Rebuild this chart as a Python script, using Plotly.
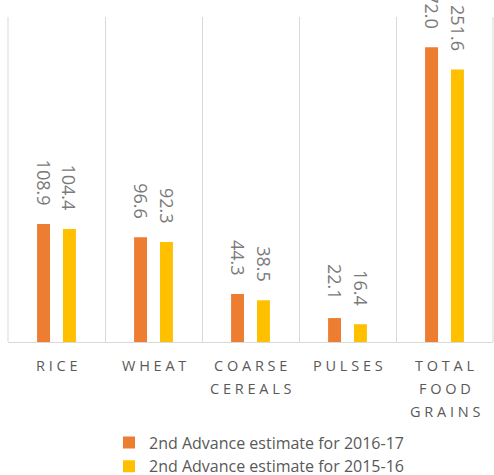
import plotly.graph_objects as go

categories = ["RICE", "WHEAT", "COARSE CEREALS", "PULSES", "TOTAL FOOD GRAINS"]
cat_lines = [["R I C E"], ["W H E A T"], ["C O A R S E", "C E R E A L S"],
             ["P U L S E S"], ["T O T A L", "F O O D", "G R A I N S"]]
series_names = ["2nd Advance estimate for 2016-17", "2nd Advance estimate for 2015-16"]
values_2016_17 = [108.9, 96.6, 44.3, 22.1, 272.0]
values_2015_16 = [104.4, 92.3, 38.5, 16.4, 251.6]
colors = ["#ED7D31", "#FFC000"]

fig = go.Figure()
for i, (name, vals) in enumerate(zip(series_names, [values_2016_17, values_2015_16])):
    fig.add_trace(go.Bar(x=categories, y=vals, name=name, marker_color=colors[i],
                         marker_line_width=0, legendgroup=f"g{i}"))

LABEL_BOX = 60
annotations = []
# data labels (rotated, text end sits a fixed gap above each bar)
for i, vals in enumerate([values_2016_17, values_2015_16]):
    shift = -13 if i == 0 else 13
    for c, v in zip(categories, vals):
        annotations.append(dict(x=c, y=v, xref="x", yref="y", text=f"{v:.1f}",
                                textangle=90, showarrow=False, width=LABEL_BOX,
                                align="right", xanchor="center", yanchor="middle",
                                xshift=shift, yshift=16 + LABEL_BOX / 2 + 3,
                                font=dict(family="Open Sans", size=18, color="#7a7a7a")))
# category labels
for c, lines in zip(categories, cat_lines):
    for j, ln in enumerate(lines):
        annotations.append(dict(x=c, y=0, xref="x", yref="paper", text=ln,
                                showarrow=False, xanchor="center", yanchor="middle",
                                yshift=-23 - 23 * j,
                                font=dict(family="Open Sans", size=14.5, color="#595959")))

shapes = [dict(type="line", xref="paper", yref="paper", x0=xp, x1=xp, y0=0, y1=1,
               line=dict(color="#d9d9d9", width=1), layer="below") for xp in (0, 1)]

fig.update_layout(
    width=494, height=475,
    margin=dict(l=8, r=1, t=17, b=133, autoexpand=False),
    paper_bgcolor="white", plot_bgcolor="white",
    barmode="group", bargap=0.466, bargroupgap=0.5,
    showlegend=True,
    legend=dict(orientation="v", x=(109 - 8) / 485, xanchor="left",
                y=(342 - 425.5) / 325, yanchor="top", tracegroupgap=0,
                font=dict(family="Open Sans", size=16, color="#595959")),
    xaxis=dict(type="category", range=[-0.5, 4.5], autorange=False,
               showgrid=True, gridcolor="#d9d9d9", gridwidth=1,
               tickson="boundaries", showticklabels=False, ticks="",
               showline=True, linecolor="#d9d9d9", linewidth=1, zeroline=False),
    yaxis=dict(range=[0, 300], autorange=False, visible=False),
    annotations=annotations,
    shapes=shapes,
)

fig.write_html("out.html", config={"displayModeBar": False},
               post_script="document.body.style.margin='0';document.body.style.padding='0';")
